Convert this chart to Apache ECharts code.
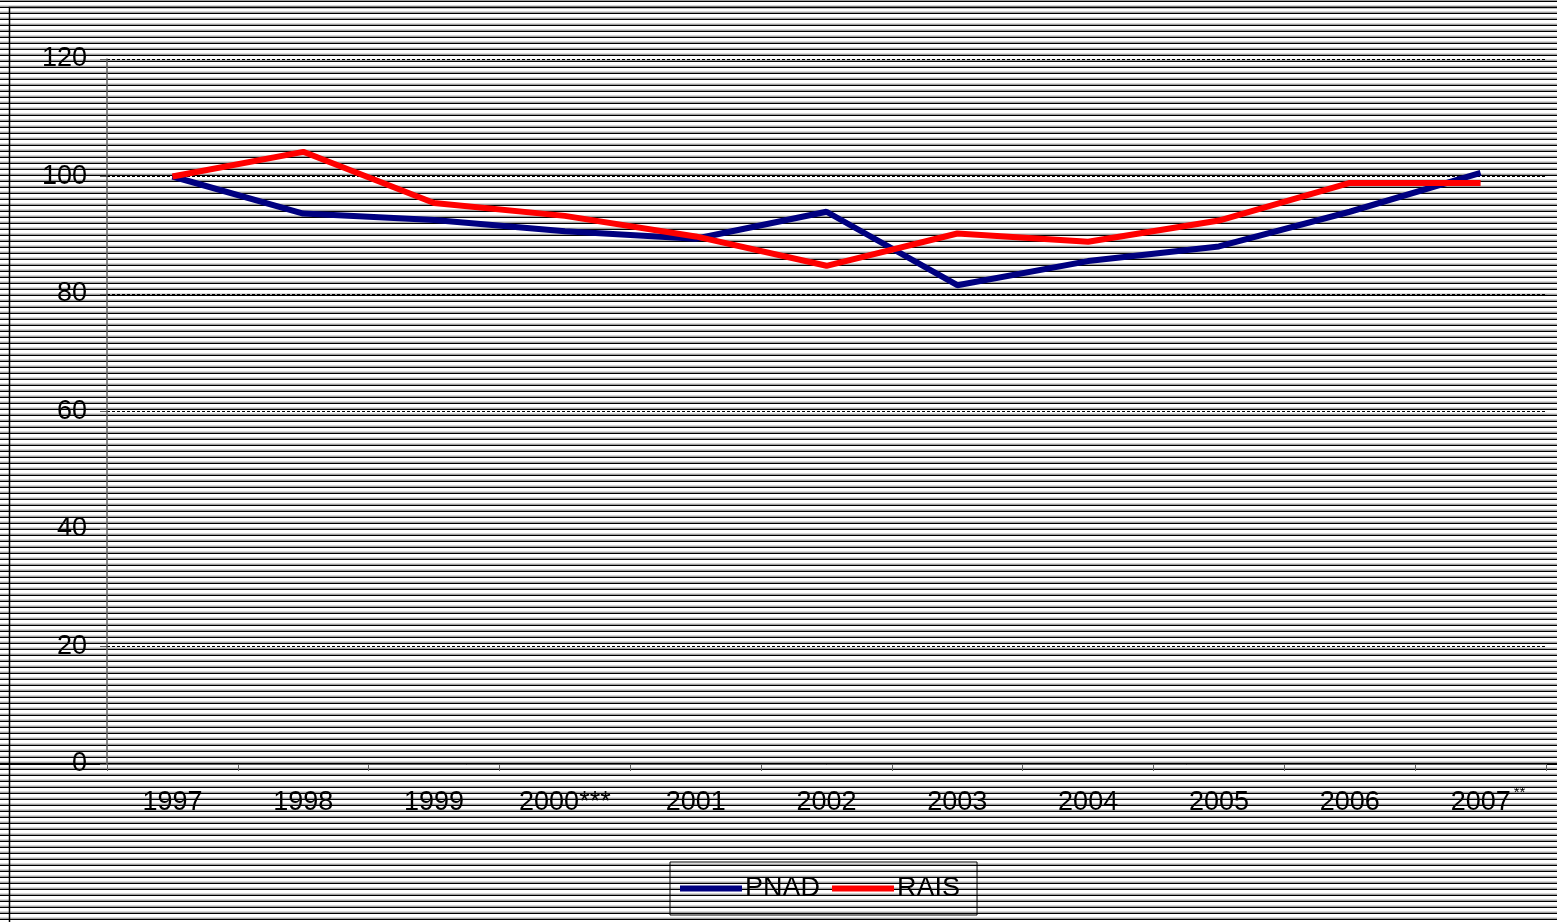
<!DOCTYPE html>
<html>
<head>
<meta charset="utf-8">
<script src="https://cdn.jsdelivr.net/npm/echarts@6/dist/echarts.min.js"></script>
<style>
html,body{margin:0;padding:0;width:1557px;height:922px;overflow:hidden;}
body{background:repeating-linear-gradient(to bottom,#a0a0a0 0px,#a0a0a0 1px,#000 1px,#000 2.5px,#fff 2.5px,#fff 5.2px,#d8d8d8 5.2px,#d8d8d8 6px);}
#chart{width:1557px;height:922px;}
</style>
</head>
<body>
<div id="chart"></div>
<script>
const categories = ['1997','1998','1999','2000***','2001','2002','2003','2004','2005','2006','2007**'];
const pnad = [100, 93.7, 92.6, 90.7, 89.4, 94.0, 81.5, 85.6, 88.1, 94.0, 100.6];
const rais = [100, 104.2, 95.5, 93.3, 89.8, 84.8, 90.3, 88.9, 92.5, 98.9, 98.9];
const yTicks = {min: 0, max: 120, interval: 20};

const chart = echarts.init(document.getElementById('chart'), null, {renderer: 'canvas'});
const font = '"Liberation Sans", Arial, sans-serif';
chart.setOption({
  backgroundColor: 'transparent',
  animation: false,
  textStyle: {fontFamily: font},
  graphic: [{
    type: 'rect', silent: true,
    shape: {x: 9.5, y: 7.5, width: 1700, height: 1000},
    style: {fill: 'none', stroke: '#000', lineWidth: 1.5}
  }],
  grid: {left: 107, right: 11, top: 59, bottom: 922 - 764, containLabel: false},
  legend: {
    left: 670, top: 862,
    padding: [13, 17, 13, 10],
    borderColor: '#000', borderWidth: 1,
    itemGap: 12, itemWidth: 62, itemHeight: 6,
    icon: 'rect',
    textStyle: {fontSize: 27, color: '#000', fontFamily: font, padding: [0, 0, 0, -2]},
    data: ['PNAD', 'RAIS']
  },
  xAxis: {
    type: 'category',
    data: categories,
    boundaryGap: true,
    axisLine: {show: true, lineStyle: {color: '#606060', width: 1}},
    axisTick: {show: true, interval: 0, length: 7, lineStyle: {color: '#606060'}},
    axisLabel: {
      interval: 0,
      margin: 21, fontSize: 27, color: '#000', fontFamily: font,
      formatter: function (v) {
        if (v.endsWith('**') && !v.endsWith('***')) {
          return '{sp|}{n|' + v.slice(0, -2) + '}{sup|**}';
        }
        return '{n|' + v + '}';
      },
      rich: {
        n: {fontSize: 27, lineHeight: 36, color: '#000', fontFamily: font},
        sp: {width: 15, lineHeight: 36},
        sup: {fontSize: 15, lineHeight: 2, verticalAlign: 'top', color: '#000', padding: [0, 0, 0, 3], fontFamily: font}
      }
    }
  },
  yAxis: {
    type: 'value',
    min: yTicks.min, max: yTicks.max, interval: yTicks.interval,
    axisLine: {show: true, lineStyle: {color: '#606060', width: 1.5}},
    axisTick: {show: true, length: 7, lineStyle: {color: '#606060'}},
    axisLabel: {margin: 20, fontSize: 27, color: '#000', fontFamily: font},
    splitLine: {show: true, lineStyle: {color: '#000', width: 1, type: [3, 2]}}
  },
  series: [
    {name: 'PNAD', type: 'line', data: pnad, showSymbol: false, symbol: 'none',
     color: '#000080', lineStyle: {color: '#000080', width: 6}},
    {name: 'RAIS', type: 'line', data: rais, showSymbol: false, symbol: 'none',
     color: '#ff0000', lineStyle: {color: '#ff0000', width: 6}}
  ]
});
</script>
</body>
</html>
